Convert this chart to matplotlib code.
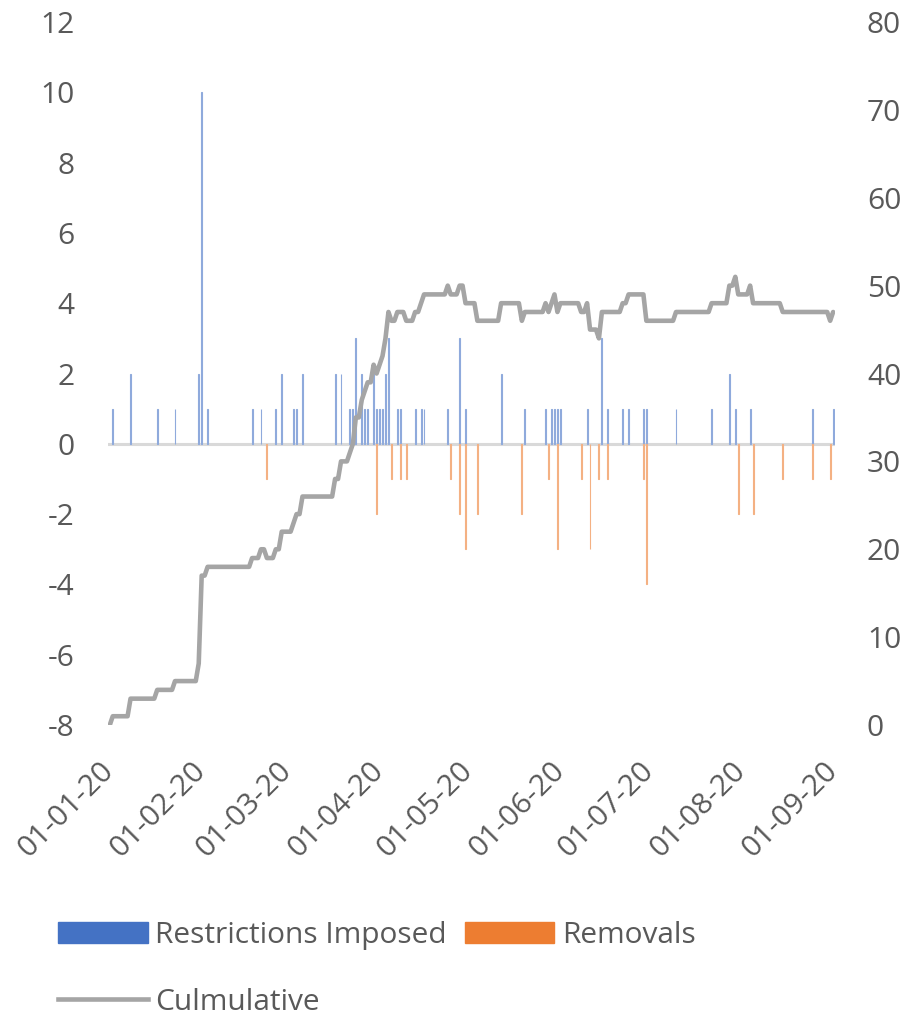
import matplotlib
matplotlib.use("Agg")
import matplotlib.pyplot as plt
import matplotlib.dates as mdates
from matplotlib.patches import Patch
from matplotlib.lines import Line2D
import numpy as np
import pandas as pd

plt.rcParams['font.family'] = ['Open Sans', 'DejaVu Sans']
plt.rcParams['axes.unicode_minus'] = False

# restrictions imposed per day
imposed_dates = ['2020-01-02', '2020-01-08', '2020-01-17', '2020-01-23', '2020-01-31',
                 '2020-02-01', '2020-02-03', '2020-02-18', '2020-02-21', '2020-02-26',
                 '2020-02-28', '2020-03-03', '2020-03-04', '2020-03-06', '2020-03-17',
                 '2020-03-19', '2020-03-22', '2020-03-23', '2020-03-24', '2020-03-26',
                 '2020-03-27', '2020-03-28', '2020-03-30', '2020-03-31', '2020-04-01',
                 '2020-04-02', '2020-04-03', '2020-04-04', '2020-04-07', '2020-04-08',
                 '2020-04-13', '2020-04-15', '2020-04-16', '2020-04-24', '2020-04-28',
                 '2020-04-30', '2020-05-12', '2020-05-20', '2020-05-27', '2020-05-29',
                 '2020-05-30', '2020-05-31', '2020-06-01', '2020-06-10', '2020-06-15',
                 '2020-06-17', '2020-06-22', '2020-06-24', '2020-06-29', '2020-06-30',
                 '2020-07-10', '2020-07-22', '2020-07-28', '2020-07-30', '2020-08-04',
                 '2020-08-25', '2020-09-01']
imposed = [1, 2, 1, 1, 2,
           10, 1, 1, 1, 1,
           2, 1, 1, 2, 2,
           2, 1, 1, 3, 2,
           1, 1, 2, 1, 1,
           1, 2, 3, 1, 1,
           1, 1, 1, 1, 3,
           1, 2, 1, 1, 1,
           1, 1, 1, 1, 3,
           1, 1, 1, 1, 1,
           1, 1, 2, 1, 1,
           1, 1]

# removals per day
removal_dates = ['2020-02-23', '2020-03-31', '2020-04-05', '2020-04-08', '2020-04-10',
                 '2020-04-25', '2020-04-28', '2020-04-30', '2020-05-04', '2020-05-19',
                 '2020-05-28', '2020-05-31', '2020-06-08', '2020-06-11', '2020-06-14',
                 '2020-06-17', '2020-06-29', '2020-06-30', '2020-07-31', '2020-08-05',
                 '2020-08-15', '2020-08-25', '2020-08-31']
removals = [1, 2, 1, 1, 1,
            1, 2, 3, 2, 2,
            1, 3, 1, 3, 1,
            1, 1, 4, 2, 2,
            1, 1, 1]

days = pd.date_range('2020-01-01', '2020-09-01', freq='D')
imp = pd.Series(imposed, index=pd.to_datetime(imposed_dates))
rem = pd.Series(removals, index=pd.to_datetime(removal_dates))
net = imp.reindex(days, fill_value=0) - rem.reindex(days, fill_value=0)
cumulative = net.cumsum()

tick_col = '#595959'
fs = 21.5

fig = plt.figure(figsize=(9.07, 10.18), dpi=100)
ax = fig.add_axes([0.119, 0.2878, 0.8016, 0.6906])
ax2 = ax.twinx()

ax.axhline(0, color='#D9D9D9', lw=2.2, zorder=1)
ax.bar(imp.index, imp.values, width=0.3, color='#8FAADC', edgecolor='#8FAADC',
       linewidth=0.8, zorder=2)
ax.bar(rem.index, -rem.values, width=0.3, color='#F4B183', edgecolor='#F4B183',
       linewidth=0.8, zorder=2)
ax2.plot(cumulative.index, cumulative.values, color='#A5A5A5', lw=3.3,
         solid_joinstyle='round', solid_capstyle='round')

x0 = pd.Timestamp('2020-01-01') - pd.Timedelta(hours=15)
x1 = pd.Timestamp('2020-09-01') + pd.Timedelta(hours=15)
ax.set_xlim(x0, x1)
ax.set_ylim(-8, 12)
ax2.set_ylim(0, 80)
ax.set_yticks(np.arange(-8, 13, 2))
ax2.set_yticks(np.arange(0, 81, 10))

ax.xaxis.set_major_locator(mdates.MonthLocator())
ax.xaxis.set_major_formatter(mdates.DateFormatter('%d-%m-%y'))

for a in (ax, ax2):
    for s in a.spines.values():
        s.set_visible(False)
ax.tick_params(axis='y', length=0, pad=24, labelsize=fs, labelcolor=tick_col)
ax2.tick_params(axis='y', length=0, pad=23, labelsize=fs, labelcolor=tick_col)
ax.tick_params(axis='x', length=0, pad=30, labelsize=fs, labelcolor=tick_col)
for lab in ax.get_xticklabels():
    lab.set_rotation(45)
    lab.set_ha('right')
    lab.set_va('center')
    lab.set_rotation_mode('anchor')

handles = [Patch(color='#4472C4'), Line2D([], [], color='#A5A5A5', lw=3.3),
           Patch(color='#ED7D31')]
labels = ['Restrictions Imposed', 'Culmulative', 'Removals']
fig.legend(handles, labels, loc='upper left', bbox_to_anchor=(0.064, 0.095),
           ncol=2, frameon=False, fontsize=fs, labelcolor=tick_col,
           handlelength=3.0, handleheight=0.72, handletextpad=0.25,
           columnspacing=0.6, labelspacing=1.25, borderpad=0, borderaxespad=0)

fig.savefig('out.png', dpi=100)
